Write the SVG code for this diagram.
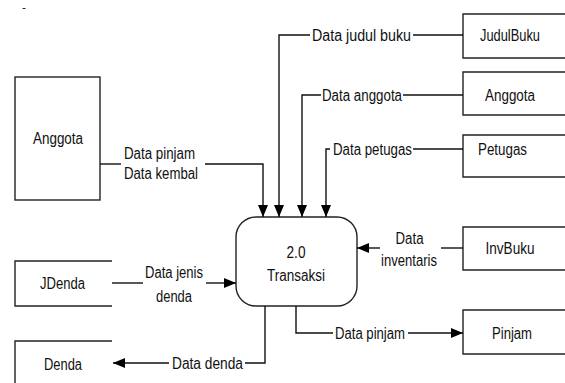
<svg xmlns="http://www.w3.org/2000/svg" width="565" height="383" viewBox="0 0 565 383">
<style>
text{font-family:"Liberation Sans",Arial,sans-serif;font-size:16px;fill:#111;}
.c{text-anchor:middle;}
.box{fill:none;stroke:#222;stroke-width:1.4;}
.ln{fill:none;stroke:#111;stroke-width:1.4;}
</style>
<defs>
<marker id="ah" markerUnits="userSpaceOnUse" markerWidth="13" markerHeight="10" refX="12" refY="5" orient="auto">
<path d="M0,0 L12,5 L0,10 z" fill="#000"/>
</marker>
</defs>
<rect width="565" height="383" fill="#fff"/>
<text x="22" y="11" style="font-size:10px" textLength="4" lengthAdjust="spacingAndGlyphs">-</text>

<g id="ent-anggota">
<rect class="box" x="15" y="77" width="85" height="123"/>
<text class="c" x="58" y="144" textLength="50" lengthAdjust="spacingAndGlyphs">Anggota</text>
</g>
<g id="store-judulbuku">
<path class="box" d="M565,14 H463 V58 H565"/>
<text class="c" x="510" y="41" textLength="60" lengthAdjust="spacingAndGlyphs">JudulBuku</text>
</g>
<g id="store-anggota">
<path class="box" d="M565,72 H463 V115 H565"/>
<text class="c" x="510" y="101" textLength="50" lengthAdjust="spacingAndGlyphs">Anggota</text>
</g>
<g id="store-petugas">
<path class="box" d="M565,135 H463 V177 H565"/>
<text x="478" y="155" textLength="49" lengthAdjust="spacingAndGlyphs">Petugas</text>
</g>
<g id="store-invbuku">
<path class="box" d="M565,227 H463 V270 H565"/>
<text class="c" x="510" y="254" textLength="49" lengthAdjust="spacingAndGlyphs">InvBuku</text>
</g>
<g id="store-pinjam">
<path class="box" d="M565,310 H463 V354 H565"/>
<text class="c" x="512" y="339" textLength="40" lengthAdjust="spacingAndGlyphs">Pinjam</text>
</g>
<g id="store-jdenda">
<path class="box" d="M112,261 H15 V306 H112"/>
<text class="c" x="62.5" y="289" textLength="45" lengthAdjust="spacingAndGlyphs">JDenda</text>
</g>
<g id="store-denda">
<path class="box" d="M112,341 H15 V383"/>
<text class="c" x="63" y="369.5" textLength="38" lengthAdjust="spacingAndGlyphs">Denda</text>
</g>
<g id="proc-transaksi">
<rect class="box" x="236" y="217" width="121" height="89" rx="20" ry="20" stroke="#333"/>
<text class="c" x="296" y="258" textLength="19" lengthAdjust="spacingAndGlyphs">2.0</text>
<text class="c" x="296" y="280.5" textLength="58" lengthAdjust="spacingAndGlyphs">Transaksi</text>
</g>

<g id="connectors">
<path class="ln" d="M100,164 H121"/>
<path class="ln" d="M205,164 H263 V217" marker-end="url(#ah)"/>
<text x="124" y="158.5" textLength="71" lengthAdjust="spacingAndGlyphs">Data pinjam</text>
<text x="124" y="178.5" textLength="74" lengthAdjust="spacingAndGlyphs">Data kembal</text>

<path class="ln" d="M463,35 H413"/>
<path class="ln" d="M310,35 H279 V217" marker-end="url(#ah)"/>
<text x="312" y="41" textLength="99" lengthAdjust="spacingAndGlyphs">Data judul buku</text>

<path class="ln" d="M463,95 H403"/>
<path class="ln" d="M321,95 H302 V217" marker-end="url(#ah)"/>
<text x="322" y="101" textLength="80" lengthAdjust="spacingAndGlyphs">Data anggota</text>

<path class="ln" d="M463,149 H413"/>
<path class="ln" d="M330,149 H326 V217" marker-end="url(#ah)"/>
<text x="333" y="155" textLength="79" lengthAdjust="spacingAndGlyphs">Data petugas</text>

<path class="ln" d="M463,248 H441"/>
<path class="ln" d="M380,248 H357" marker-end="url(#ah)"/>
<text class="c" x="409.5" y="243.5" textLength="28" lengthAdjust="spacingAndGlyphs">Data</text>
<text class="c" x="409" y="265.5" textLength="56" lengthAdjust="spacingAndGlyphs">inventaris</text>

<path class="ln" d="M296,306 V333 H333"/>
<path class="ln" d="M408,333 H463" marker-end="url(#ah)"/>
<text x="335" y="339" textLength="70" lengthAdjust="spacingAndGlyphs">Data pinjam</text>

<path class="ln" d="M112,283 H143"/>
<path class="ln" d="M206,283 H236" marker-end="url(#ah)"/>
<text class="c" x="174" y="278" textLength="58" lengthAdjust="spacingAndGlyphs">Data jenis</text>
<text class="c" x="174" y="301.5" textLength="36" lengthAdjust="spacingAndGlyphs">denda</text>

<path class="ln" d="M265,306 V363 H245"/>
<path class="ln" d="M169,363 H113" marker-end="url(#ah)"/>
<text x="172" y="369" textLength="71" lengthAdjust="spacingAndGlyphs">Data denda</text>
</g>
</svg>
